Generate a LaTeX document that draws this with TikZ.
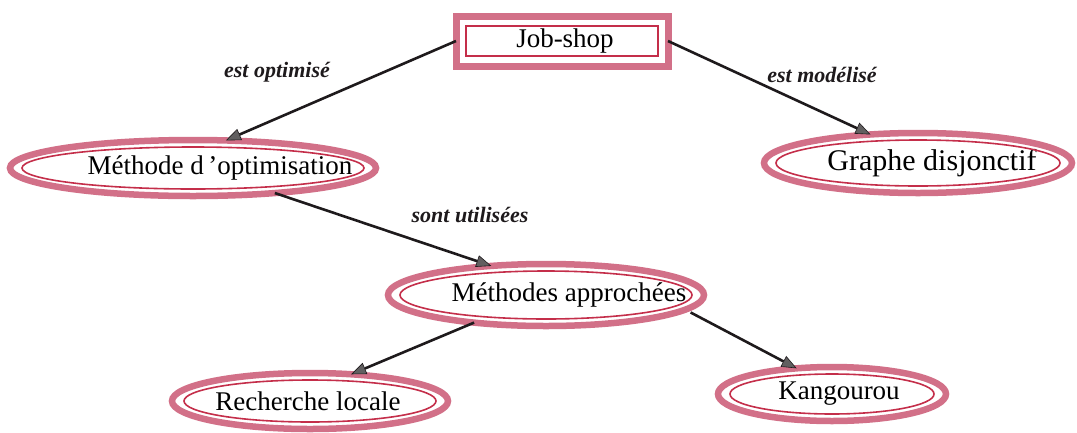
\documentclass[tikz,border=0pt]{standalone}
\usepackage{fontspec}
\setmainfont{Liberation Serif}
\usetikzlibrary{shapes.geometric,arrows.meta,calc}
\definecolor{band}{RGB}{210,112,136}
\definecolor{rim}{RGB}{196,46,74}
\definecolor{ink}{RGB}{30,26,28}
% text set off-centre inside a node without widening it
\newcommand\offtext[2]{\makebox[0pt]{\hspace*{#1}#2}}
\tikzset{
  concept/.style={ellipse, draw=band, line width=6.5pt, inner sep=0pt, outer sep=0pt,
    font=\fontsize{27}{29}\selectfont},
  topbox/.style={rectangle, draw=band, line width=7pt, inner sep=0pt, outer sep=0pt,
    font=\fontsize{27}{29}\selectfont},
  rimline/.style={draw=rim, line width=1.6pt},
  link/.style={draw=ink, line width=2.6pt,
    -{Triangle[length=15pt,width=12pt,fill=ink!70,line width=0.6pt]}},
  linklabel/.style={font=\bfseries\itshape\fontsize{22}{24}\selectfont, text=ink}
}
\begin{document}
\begin{tikzpicture}[x=1pt,y=-1pt]
\useasboundingbox (0,0) rectangle (1077,432);

% concept nodes
\node[topbox, minimum width=212pt, minimum height=50pt] (js) at (562,41) {\offtext{6pt}{Job-shop}};
\node[concept, minimum width=366pt, minimum height=56pt] (mo) at (193,168) {\offtext{54pt}{Méthode d\,’optimisation}};
\node[concept, minimum width=308pt, minimum height=60pt] (gd) at (918,163) {\offtext{28pt}{\fontsize{30}{32}\selectfont Graphe disjonctif}};
\node[concept, minimum width=316pt, minimum height=62pt] (ma) at (546,295) {\offtext{46pt}{Méthodes approchées}};
\node[concept, minimum width=276pt, minimum height=56pt] (rl) at (310,401) {\offtext{-4pt}{Recherche locale}};
\node[concept, minimum width=228pt, minimum height=54pt] (kg) at (832,394) {\offtext{14pt}{Kangourou}};

% thin inner rims
\draw[rimline] ($(js.south west)+(10,-10)$) rectangle ($(js.north east)+(-10,10)$);
\foreach \nm in {mo,gd,ma,rl,kg}{
  \draw[rimline] let \p1=($(\nm.east)-(\nm.center)$), \p2=($(\nm.north)-(\nm.center)$) in
    (\nm.center) ellipse [x radius=\x1-12pt, y radius=\y2-7pt];
}

% connectors
\draw[link] (js.west) -- (mo.40);
\draw[link] (js.east) -- (gd.149);
\draw[link] (mo.-17) -- (ma.152);
\draw[link] (ma.201) -- (rl.33);
\draw[link, shorten <=6pt] (ma.-6) -- (kg.144);

% connector labels
\node[linklabel] (l1) at (277,72) {est optimisé};
\node[linklabel] (l2) at (822,75) {est modélisé};
\node[linklabel] (l3) at (470,215) {sont utilisées};
\end{tikzpicture}
\end{document}
